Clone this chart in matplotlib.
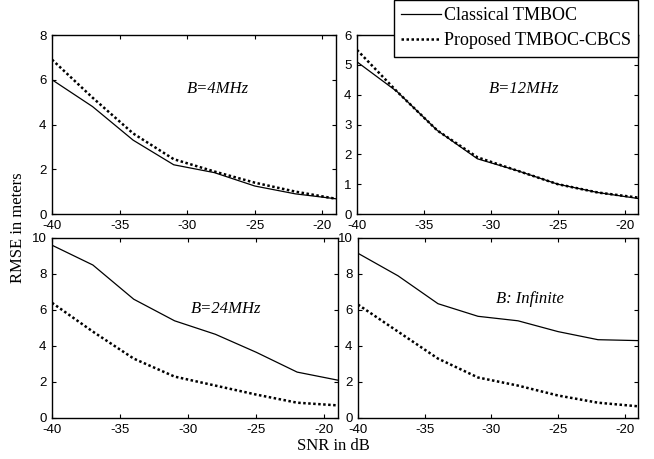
import matplotlib
matplotlib.use("Agg")
import matplotlib.pyplot as plt

plt.rcParams["axes.unicode_minus"] = False

# SNR points (dB)
snr = [-40, -37, -34, -31, -28, -25, -22, -19]

# RMSE in meters
classical_4 = [6.0, 4.8, 3.3, 2.2, 1.85, 1.25, 0.9, 0.68]
proposed_4 = [6.9, 5.2, 3.6, 2.45, 1.9, 1.4, 1.0, 0.68]

classical_12 = [5.1, 4.1, 2.8, 1.85, 1.45, 1.0, 0.72, 0.52]
proposed_12 = [5.5, 4.1, 2.8, 1.9, 1.45, 1.0, 0.72, 0.55]

classical_24 = [9.6, 8.5, 6.6, 5.4, 4.65, 3.65, 2.55, 2.1]
proposed_24 = [6.4, 4.8, 3.3, 2.3, 1.8, 1.3, 0.85, 0.7]

classical_inf = [9.15, 7.9, 6.35, 5.65, 5.4, 4.8, 4.35, 4.3]
proposed_inf = [6.3, 4.8, 3.3, 2.25, 1.8, 1.25, 0.85, 0.65]

panel_titles = ["B=4MHz", "B=12MHz", "B=24MHz", "B: Infinite"]
series_names = ["Classical TMBOC", "Proposed TMBOC-CBCS"]

W, H = 654, 459
fig = plt.figure(figsize=(W / 100, H / 100), dpi=100)


def px_axes(x0, y0, x1, y1):
    # pixel box (top-left origin) -> figure fraction axes
    return fig.add_axes([x0 / W, 1 - y1 / H, (x1 - x0) / W, (y1 - y0) / H])


boxes = [(52, 35, 336, 214), (357, 35, 638, 214),
         (52, 238, 338, 418), (358, 238, 638, 418)]
data = [(classical_4, proposed_4, 8, [0, 2, 4, 6, 8]),
        (classical_12, proposed_12, 6, [0, 1, 2, 3, 4, 5, 6]),
        (classical_24, proposed_24, 10, [0, 2, 4, 6, 8, 10]),
        (classical_inf, proposed_inf, 10, [0, 2, 4, 6, 8, 10])]
text_pos = [(-27.7, 5.6), (-27.5, 4.2), (-27.2, 6.05), (-27.1, 6.6)]

serif = "Liberation Serif"
sans = "Liberation Sans"

lines = None
for box, (cl, pr, ymax, yt), title, tp in zip(boxes, data, panel_titles, text_pos):
    ax = px_axes(*box)
    l1, = ax.plot(snr, cl, color="black", linewidth=0.9, linestyle="-")
    l2, = ax.plot(snr, pr, color="black", linewidth=1.8, linestyle=(0, (1, 1)))
    lines = (l1, l2)
    ax.set_xlim(-40, -19)
    ax.set_ylim(0, ymax)
    ax.set_xticks([-40, -35, -30, -25, -20])
    ax.set_yticks(yt)
    ax.tick_params(direction="in", top=True, right=True, length=3, width=0.8,
                   labelsize=9.5)
    ax.tick_params(axis="x", pad=4)
    ax.tick_params(axis="y", pad=4)
    for lab in ax.get_xticklabels() + ax.get_yticklabels():
        lab.set_fontfamily(sans)
    for s in ax.spines.values():
        s.set_linewidth(1.0)
    ax.text(tp[0], tp[1], title, fontfamily=serif, fontstyle="italic",
            fontsize=12, ha="center", va="center")

leg = fig.legend(lines, series_names, loc="upper right",
                 bbox_to_anchor=(638 / W, 1.0), frameon=True,
                 fancybox=False, edgecolor="black", framealpha=1,
                 prop={"family": serif, "size": 13}, handlelength=2.2,
                 handletextpad=0.15, borderpad=0.4, labelspacing=0.45,
                 borderaxespad=0)
leg.get_frame().set_linewidth(1.0)

fig.text(18 / W, 1 - 228 / H, "RMSE in meters", rotation=90, ha="center",
         va="center", fontfamily=serif, fontsize=12)
fig.text(333 / W, 1 - 446 / H, "SNR in dB", ha="center", va="center",
         fontfamily=serif, fontsize=12)

fig.savefig("out.png", dpi=100)
